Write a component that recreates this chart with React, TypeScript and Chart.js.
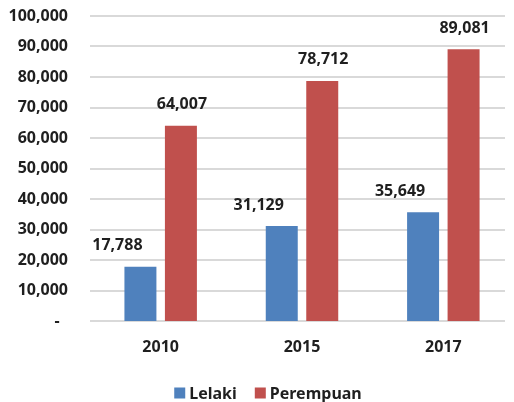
import React, { useEffect, useRef } from "react";
import { Chart, registerables } from "chart.js";

Chart.register(...registerables);

const categories = ["2010", "2015", "2017"];
const lelaki = [17788, 31129, 35649];
const perempuan = [64007, 78712, 89081];
const seriesNames = ["Lelaki", "Perempuan"];
const seriesColors = ["#4F81BD", "#C0504D"];

const FONT = "'Noto Sans', 'Open Sans', sans-serif";
const TEXT = "#1f1f1f";
const GRID = "#d9d9d9";
const GRID_RIGHT_INSET = 9;

const gridPlugin = {
  id: "shortGrid",
  beforeDatasetsDraw(chart: any) {
    const ctx = chart.ctx;
    const y = chart.scales.y;
    const area = chart.chartArea;
    ctx.save();
    ctx.strokeStyle = GRID;
    ctx.lineWidth = 2;
    y.ticks.forEach((t: any) => {
      const py = Math.round(y.getPixelForValue(t.value));
      ctx.beginPath();
      ctx.moveTo(area.left, py);
      ctx.lineTo(area.right - GRID_RIGHT_INSET, py);
      ctx.stroke();
    });
    ctx.restore();
  },
};

const labelPlugin = {
  id: "valueLabels",
  afterDatasetsDraw(chart: any) {
    const ctx = chart.ctx;
    ctx.save();
    ctx.font = `bold 16px ${FONT}`;
    ctx.fillStyle = TEXT;
    ctx.textAlign = "center";
    ctx.textBaseline = "middle";
    chart.data.datasets.forEach((ds: any, di: number) => {
      const meta = chart.getDatasetMeta(di);
      meta.data.forEach((el: any, i: number) => {
        const v = ds.data[i] as number;
        const dx = di === 0 ? -23 : 1;
        ctx.fillText(v.toLocaleString("en-US"), el.x + dx, el.y - 21);
      });
    });
    ctx.restore();
  },
};

const legendPlugin = {
  id: "customLegend",
  afterDraw(chart: any) {
    const ctx = chart.ctx;
    ctx.save();
    ctx.font = `bold 16px ${FONT}`;
    ctx.textBaseline = "middle";
    ctx.textAlign = "left";
    const box = 11;
    const gap = 4;
    const spacing = 18;
    const items = chart.data.datasets.map((ds: any) => ({
      label: ds.label,
      color: ds.backgroundColor,
      w: ctx.measureText(ds.label).width,
    }));
    let total = 0;
    items.forEach((it: any, i: number) => {
      total += box + gap + it.w + (i < items.length - 1 ? spacing : 0);
    });
    const cx = 268;
    const cy = 393;
    let x = cx - total / 2;
    items.forEach((it: any) => {
      ctx.fillStyle = it.color;
      ctx.fillRect(x, cy - box / 2, box, box);
      x += box + gap;
      ctx.fillStyle = TEXT;
      ctx.fillText(it.label, x, cy + 1);
      x += it.w + spacing;
    });
    ctx.restore();
  },
};

export default function App() {
  const ref = useRef<HTMLCanvasElement>(null);
  useEffect(() => {
    if (!ref.current) return;
    const chart = new Chart(ref.current, {
      type: "bar",
      data: {
        labels: categories,
        datasets: [
          {
            label: seriesNames[0],
            data: lelaki,
            backgroundColor: seriesColors[0],
            barPercentage: 0.79,
            categoryPercentage: 0.573,
          },
          {
            label: seriesNames[1],
            data: perempuan,
            backgroundColor: seriesColors[1],
            barPercentage: 0.79,
            categoryPercentage: 0.573,
          },
        ],
      },
      options: {
        animation: false,
        responsive: false,
        maintainAspectRatio: false,
        layout: { padding: { top: 0, right: 0, left: 0, bottom: 0 } },
        plugins: {
          legend: { display: false },
          tooltip: { enabled: false },
        },
        scales: {
          x: {
            grid: { display: false, drawTicks: false },
            border: { display: false },
            ticks: {
              color: TEXT,
              font: { family: FONT, size: 16, weight: "bold" },
              padding: 17,
            },
            afterFit(scale: any) {
              scale.height = 81;
              scale.paddingLeft = 0;
              scale.paddingRight = 0;
            },
          },
          y: {
            min: 0,
            max: 100000,
            grid: { display: false, drawTicks: false },
            border: { display: false },
            ticks: {
              stepSize: 10000,
              color: TEXT,
              padding: 22,
              font: { family: FONT, size: 16, weight: "bold" },
              callback: (v: any) => (v === 0 ? "-  " : Number(v).toLocaleString("en-US")),
            },
            afterFit(scale: any) {
              scale.width = 90;
              scale.paddingTop = 16;
              scale.paddingBottom = 4;
            },
          },
        },
      },
      plugins: [gridPlugin, labelPlugin, legendPlugin],
    });
    return () => chart.destroy();
  }, []);
  return (
    <div style={{ position: "fixed", left: 0, top: 0, width: 514, height: 402, background: "#fff" }}>
      <canvas ref={ref} width={514} height={402} style={{ display: "block" }} />
    </div>
  );
}
